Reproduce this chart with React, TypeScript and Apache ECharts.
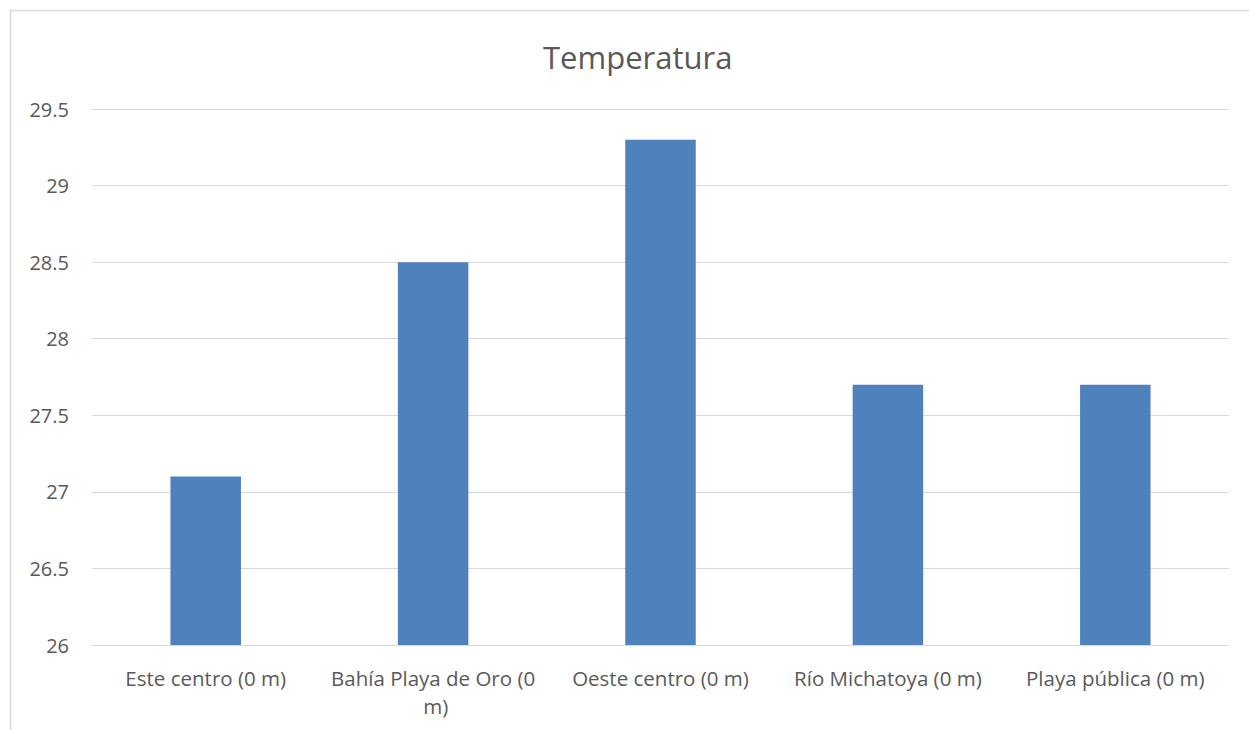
import React, { useEffect, useRef } from "react";
import * as echarts from "echarts";

const categories = [
  "Este centro (0 m)",
  "Bahía Playa de Oro (0 m)",
  "Oeste centro (0 m)",
  "Río Michatoya (0 m)",
  "Playa pública (0 m)",
];
const temperatures = [27.1, 28.5, 29.3, 27.7, 27.7];
const chartTitle = "Temperatura";

export default function App() {
  const ref = useRef<HTMLDivElement>(null);
  useEffect(() => {
    if (!ref.current) return;
    const chart = echarts.init(ref.current, null, { renderer: "svg" });
    const font = "'Open Sans', 'Noto Sans', sans-serif";
    chart.setOption({
      animation: false,
      backgroundColor: "#ffffff",
      title: {
        text: chartTitle,
        left: 538,
        top: 36,
        textStyle: { fontFamily: font, fontSize: 31, fontWeight: "normal", color: "#595959" },
      },
      graphic: [
        {
          type: "rect",
          shape: { x: 10.5, y: 10.5, width: 1260, height: 740 },
          style: { fill: "none", stroke: "#d9d9d9", lineWidth: 1.5 },
          silent: true,
          z: -1,
        },
      ],
      grid: { left: 92, right: 20, top: 109, bottom: 85, containLabel: false },
      xAxis: {
        type: "category",
        data: categories,
        axisTick: { show: false },
        axisLine: { lineStyle: { color: "#d9d9d9", width: 1 } },
        axisLabel: {
          interval: 0,
          margin: 19,
          fontFamily: font,
          fontSize: 20.5,
          color: "#595959",
          lineHeight: 28,
          width: 222,
          overflow: "break",
        },
      },
      yAxis: {
        type: "value",
        min: 26,
        max: 29.5,
        interval: 0.5,
        axisLine: { show: false },
        axisTick: { show: false },
        splitLine: { lineStyle: { color: "#d9d9d9", width: 1 } },
        axisLabel: {
          margin: 23,
          fontFamily: font,
          fontSize: 20,
          color: "#595959",
        },
      },
      series: [
        {
          type: "bar",
          data: temperatures,
          barWidth: "31%",
          itemStyle: { color: "#4f81bd" },
        },
      ],
    });
    return () => chart.dispose();
  }, []);
  return (
    <div
      ref={ref}
      style={{ position: "fixed", left: 0, top: 0, width: 1249, height: 730 }}
    />
  );
}
